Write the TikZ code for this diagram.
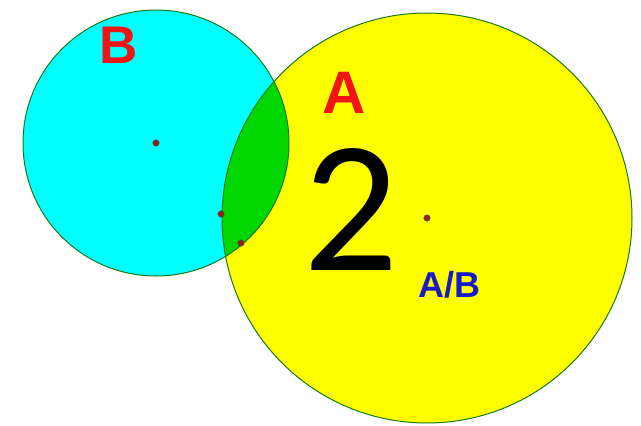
\documentclass[tikz,border=0pt]{standalone}
\usepackage{fontspec}
\setmainfont{Liberation Sans}
\newfontfamily\digitfont{Carlito}
\usetikzlibrary{positioning}

\definecolor{ringgreen}{RGB}{25,120,25}
\definecolor{lensgreen}{RGB}{0,215,0}
\definecolor{setcyan}{RGB}{0,255,255}
\definecolor{setyellow}{RGB}{255,255,0}
\definecolor{dotred}{RGB}{140,35,20}
\definecolor{labelred}{RGB}{240,20,20}
\definecolor{labelblue}{RGB}{25,25,200}

\begin{document}
\begin{tikzpicture}[x=1pt,y=-1pt,
  ring/.style={draw=ringgreen,line width=1pt},
  pt/.style={circle,fill=dotred,draw=black!70,line width=0.4pt,inner sep=0pt,minimum size=6.5pt},
  setlabel/.style={inner sep=0pt,anchor=base west,text=labelred,font=\bfseries\fontsize{#1}{#1}\selectfont}]
\useasboundingbox (0,0) rectangle (641,426);
\coordinate (cB) at (156,143);
\coordinate (cA) at (427,218);
\fill[setyellow] (cA) circle (205pt);
\fill[setcyan] (cB) circle (133pt);
\begin{scope}
\clip (cA) circle (205pt);
\fill[lensgreen] (cB) circle (133pt);
\end{scope}
\draw[ring] (cA) circle (205pt) (cB) circle (133pt);
% points
\node[pt] (dotB) at (cB) {};
\node[pt] (dotA) at (cA) {};
\node[pt] (dotP) at (221,214) {};
\node[pt] (dotQ) at (241,243) {};
% labels
\node[setlabel=53] (labB) at (99,63) {B};
\node[setlabel=60] (labA) at (322,113) {A};
\node[inner sep=0pt,anchor=base west,font=\digitfont\fontsize{188}{188}\selectfont] (two) at (303,270) {2};
\node[setlabel=36,text=labelblue] (labAB) at (418,297) {A/B};
\end{tikzpicture}
\end{document}
